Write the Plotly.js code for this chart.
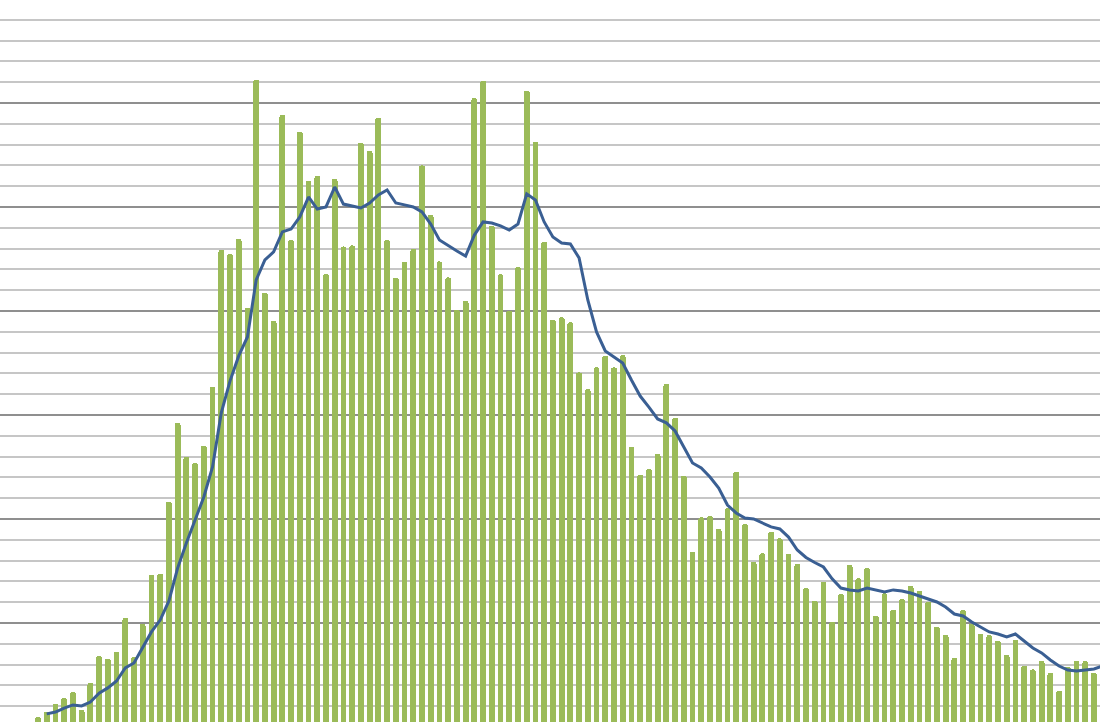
<!DOCTYPE html>
<html>
<head>
<meta charset="utf-8">
<script src="https://cdn.plot.ly/plotly-3.0.1.min.js"></script>
<style>html,body{margin:0;padding:0;background:#fff;}#chart{width:1100px;height:722px;}</style>
</head>
<body>
<div id="chart"></div>
<script>
// Daily values (bars)
var barIndex = [];
for (var i = 0; i < 122; i++) barIndex.push(i);
var barValues = [
  4.8, 7.2, 11.1, 13.9, 16.8, 8.2, 21.2, 34.1, 32.7, 36.1,
  52.4, 33.7, 49.5, 73.1, 73.6, 108.2, 146.2, 129.8, 126.9, 135.1,
  163.5, 229.3, 227.4, 234.6, 201.4, 311.1, 208.7, 195.2, 294.2, 234.1,
  286.1, 262.5, 264.9, 217.8, 263.5, 231.0, 231.5, 280.8, 276.9, 293.0,
  234.1, 215.9, 223.6, 229.8, 270.0, 246.2, 223.8, 216.1, 200.5, 204.8,
  302.3, 310.7, 241.0, 217.6, 200.1, 221.0, 305.9, 281.4, 233.3, 195.7,
  197.0, 194.6, 170.5, 162.4, 172.9, 178.5, 172.9, 178.8, 134.8, 121.2,
  124.0, 131.3, 164.9, 148.7, 120.8, 84.1, 100.8, 101.4, 95.2, 105.1,
  122.7, 97.5, 79.5, 83.5, 93.9, 90.7, 83.2, 78.4, 66.8, 60.8,
  69.9, 50.6, 63.9, 77.9, 71.5, 76.3, 53.4, 64.3, 56.3, 61.5,
  67.8, 65.4, 60.2, 48.2, 44.2, 33.3, 56.3, 49.5, 44.7, 44.2,
  41.5, 34.6, 41.8, 29.5, 27.7, 31.7, 26.1, 17.5, 29.0, 31.7,
  31.7, 26.1
];
// Moving average (line)
var lineIndex = [];
for (var j = 1; j <= 122; j++) lineIndex.push(j);
var lineValues = [
  6.3, 7.2, 9.1, 10.6, 10.1, 12.0, 16.3, 18.8, 22.1,
  28.4, 30.8, 38.0, 45.7, 51.4, 60.6, 76.4, 88.5, 99.5, 110.6,
  125.0, 151.0, 166.3, 178.4, 187.5, 214.9, 224.5, 228.4, 238.0, 239.4,
  245.2, 254.8, 249.0, 250.0, 259.6, 251.4, 250.5, 249.5, 251.9, 255.8,
  258.2, 251.9, 251.0, 250.0, 247.6, 241.8, 234.1, 231.3, 228.8, 226.4,
  236.5, 242.8, 242.3, 240.9, 238.9, 241.8, 256.3, 253.4, 242.8, 235.6,
  232.7, 232.2, 225.5, 205.3, 189.9, 180.8, 177.9, 175.0, 166.8, 159.1,
  153.8, 148.1, 146.2, 142.3, 134.6, 126.9, 124.5, 120.2, 114.9, 106.7,
  102.9, 100.5, 100.0, 98.1, 96.2, 95.2, 91.3, 85.1, 81.5, 79.1,
  76.9, 71.2, 66.8, 65.9, 65.4, 66.8, 65.9, 64.9, 65.9, 65.4,
  64.4, 63.0, 61.5, 60.1, 57.7, 54.3, 53.4, 50.5, 48.1, 45.7,
  44.7, 43.3, 44.7, 41.3, 38.0, 35.6, 32.2, 29.3, 27.4, 26.9,
  27.4, 27.9, 29.3
];

var traces = [
  {
    type: 'bar',
    x: barIndex,
    y: barValues,
    width: 0.66,
    marker: {color: '#9BBB59', line: {width: 0}, cornerradius: 2},
    hoverinfo: 'skip'
  },
  {
    type: 'scatter',
    mode: 'lines',
    x: lineIndex,
    y: lineValues,
    line: {color: '#3A5F93', width: 3},
    hoverinfo: 'skip'
  }
];

var layout = {
  width: 1100,
  height: 722,
  margin: {l: 0, r: 0, t: 0, b: 0, pad: 0},
  paper_bgcolor: '#ffffff',
  plot_bgcolor: '#ffffff',
  showlegend: false,
  bargap: 0,
  xaxis: {
    range: [-4.354, 121.69],
    showgrid: false,
    zeroline: false,
    showticklabels: false,
    ticks: '',
    showline: false,
    fixedrange: true
  },
  yaxis: {
    range: [2.4, 349.5],
    tick0: 0,
    dtick: 50,
    showgrid: true,
    gridcolor: '#8f8f8f',
    gridwidth: 2,
    minor: {dtick: 10, tick0: 0, showgrid: true, gridcolor: '#c6c6c6', gridwidth: 2, ticks: ''},
    zeroline: false,
    showticklabels: false,
    ticks: '',
    showline: false,
    fixedrange: true
  }
};

Plotly.newPlot('chart', traces, layout, {displayModeBar: false, staticPlot: true});
</script>
</body>
</html>
